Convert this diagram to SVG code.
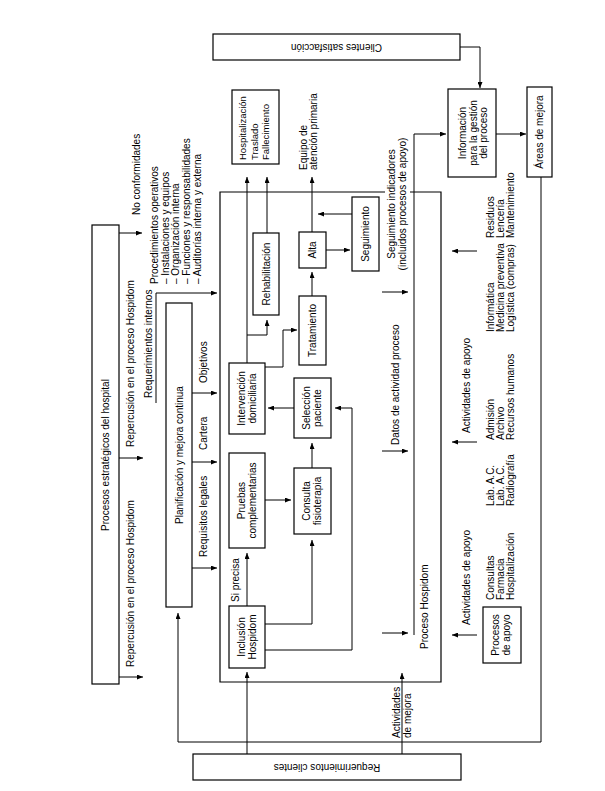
<svg xmlns="http://www.w3.org/2000/svg" width="605" height="791" viewBox="0 0 605 791">
<defs>
<marker id="a" markerUnits="userSpaceOnUse" markerWidth="6" markerHeight="5" refX="6" refY="2.5" orient="auto"><path d="M0,0 L6,2.5 L0,5 z" fill="#000"/></marker>
<style>
rect{fill:#fff;stroke:#000;stroke-width:1.2}
.c path{fill:none;stroke:#000;stroke-width:1;marker-end:url(#a)}
text{font-family:"Liberation Sans",Arial,sans-serif;font-size:10px;fill:#000}
.m{text-anchor:middle}
</style>
</defs>
<rect x="0" y="0" width="605" height="791" style="fill:#fff;stroke:none"/>

<g class="c" id="connectors">
<path d="M460,47 H480 V88"/>
<path d="M496,134 H526"/>
<path d="M541,177 V742 H178 V613"/>
<path d="M119,233 H142"/>
<path d="M119,458 H143"/>
<path d="M119,677 H143"/>
<path d="M156,403 V293 H217"/>
<path d="M192,393 H217"/>
<path d="M192,462 H217"/>
<path d="M192,568 H217"/>
<path d="M247,754 V672"/>
<path d="M402,754 V673"/>
<path d="M247,606 V553"/>
<path d="M265,624 H312 V540"/>
<path d="M265,650 H352 V408 H335"/>
<path d="M265,500 H291"/>
<path d="M312,468 V443"/>
<path d="M294,408 H268"/>
<path d="M247,363 V177"/>
<path d="M247,335 H267 V320"/>
<path d="M267,233 V177"/>
<path d="M265,367 H283 V330 H297"/>
<path d="M312,296 V272"/>
<path d="M312,232 V177"/>
<path d="M326,250 H350"/>
<path d="M352,214 H318"/>
<path d="M382,292 H408"/>
<path d="M382,451 H408"/>
<path d="M382,633 H408"/>
<path d="M414,635 V134 H446"/>
<path d="M477,251 H452"/>
<path d="M477,442 H452"/>
<path d="M477,635 H452"/>
</g>

<g id="proceso-hospidom">
<path d="M385,192 H220 V682 H441 V192 H410" fill="none" stroke="#000" stroke-width="1.2"/>
<text transform="translate(428,649) rotate(-90)">Proceso Hospidom</text>
</g>

<g id="clientes-satisfaccion">
<rect x="213" y="34" width="247" height="26"/>
<text class="m" transform="translate(336.5,43.5) rotate(180)">Clientes satisfacción</text>
</g>

<g id="informacion">
<rect x="448" y="89" width="48" height="88"/>
<text class="m" transform="translate(466,133) rotate(-90)"><tspan x="0" y="0">Información</tspan><tspan x="0" dy="10.5">para la gestión</tspan><tspan x="0" dy="10.5">del proceso</tspan></text>
</g>

<g id="areas-mejora">
<rect x="527" y="87" width="25" height="90"/>
<text class="m" transform="translate(543,132) rotate(-90)">Áreas de mejora</text>
</g>

<g id="procesos-estrategicos">
<rect x="92" y="225" width="27" height="459"/>
<text class="m" transform="translate(109,455) rotate(-90)">Procesos estratégicos del hospital</text>
</g>

<g id="planificacion">
<rect x="166" y="303" width="26" height="304"/>
<text class="m" transform="translate(183,455) rotate(-90)">Planificación y mejora continua</text>
</g>

<g id="hospitalizacion">
<rect x="232" y="90" width="47" height="74"/>
<text transform="translate(246,160) rotate(-90)" style="font-size:9.5px"><tspan x="0" y="0">Hospitalización</tspan><tspan x="0" dy="11.5">Traslado</tspan><tspan x="0" dy="11.5">Fallecimiento</tspan></text>
</g>

<g id="rehabilitacion">
<rect x="253" y="233" width="26" height="82"/>
<text class="m" transform="translate(270,274) rotate(-90)">Rehabilitación</text>
</g>

<g id="alta">
<rect x="299" y="232" width="27" height="36"/>
<text class="m" transform="translate(316,250) rotate(-90)">Alta</text>
</g>

<g id="tratamiento">
<rect x="299" y="296" width="27" height="69"/>
<text class="m" transform="translate(316,330.5) rotate(-90)">Tratamiento</text>
</g>

<g id="seguimiento">
<rect x="352" y="197" width="27" height="74"/>
<text class="m" transform="translate(369,234) rotate(-90)">Seguimiento</text>
</g>

<g id="intervencion">
<rect x="229" y="363" width="36" height="71"/>
<text class="m" transform="translate(245,398.5) rotate(-90)"><tspan x="0" y="0">Intervención</tspan><tspan x="0" dy="11">domiciliaria</tspan></text>
</g>

<g id="seleccion">
<rect x="294" y="378" width="37" height="60"/>
<text class="m" transform="translate(310,408) rotate(-90)"><tspan x="0" y="0">Selección</tspan><tspan x="0" dy="11">paciente</tspan></text>
</g>

<g id="pruebas">
<rect x="229" y="453" width="36" height="95"/>
<text class="m" transform="translate(245,500.5) rotate(-90)"><tspan x="0" y="0">Pruebas</tspan><tspan x="0" dy="11">complementarias</tspan></text>
</g>

<g id="consulta">
<rect x="294" y="468" width="37" height="66"/>
<text class="m" transform="translate(310,501) rotate(-90)"><tspan x="0" y="0">Consulta</tspan><tspan x="0" dy="11">fisioterapia</tspan></text>
</g>

<g id="inclusion">
<rect x="229" y="606" width="36" height="62"/>
<text class="m" transform="translate(245,637) rotate(-90)"><tspan x="0" y="0">Inclusión</tspan><tspan x="0" dy="11">Hospidom</tspan></text>
</g>

<g id="procesos-apoyo">
<rect x="483" y="607" width="38" height="56"/>
<text class="m" transform="translate(499,635) rotate(-90)"><tspan x="0" y="0">Procesos</tspan><tspan x="0" dy="11">de apoyo</tspan></text>
</g>

<g id="requerimientos-clientes">
<rect x="193" y="754" width="268" height="26"/>
<text class="m" transform="translate(327,763.5) rotate(180)">Requerimientos clientes</text>
</g>

<g id="labels">
<text transform="translate(140,215) rotate(-90)">No conformidades</text>
<text transform="translate(133.5,447) rotate(-90)">Repercusión en el proceso Hospidom</text>
<text transform="translate(133.5,667) rotate(-90)">Repercusión en el proceso Hospidom</text>
<text transform="translate(151.5,398) rotate(-90)">Requerimientos internos</text>
<text transform="translate(158,284) rotate(-90)"><tspan x="0" y="0">Procedimientos operativos</tspan><tspan x="0" dy="10.7">– Instalaciones y equipos</tspan><tspan x="0" dy="10.7">– Organización interna</tspan><tspan x="0" dy="10.7">– Funciones y responsabilidades</tspan><tspan x="0" dy="10.7">– Auditorías interna y externa</tspan></text>
<text transform="translate(207,383) rotate(-90)">Objetivos</text>
<text transform="translate(207,450) rotate(-90)">Cartera</text>
<text transform="translate(207,557) rotate(-90)">Requisitos legales</text>
<text transform="translate(238.5,602) rotate(-90)">Si precisa</text>
<text transform="translate(307,170) rotate(-90)"><tspan x="0" y="0">Equipo de</tspan><tspan x="0" dy="9.5">atención primaria</tspan></text>
<text class="m" transform="translate(394.5,204) rotate(-90)"><tspan x="0" y="0">Seguimiento indicadores</tspan><tspan x="0" dy="11">(incluidos procesos de apoyo)</tspan></text>
<text transform="translate(399,445) rotate(-90)">Datos de actividad proceso</text>
<text transform="translate(400,738) rotate(-90)"><tspan x="0" y="0">Actividades</tspan><tspan x="0" dy="11">de mejora</tspan></text>
<text transform="translate(470,433) rotate(-90)">Actividades de apoyo</text>
<text transform="translate(470,625) rotate(-90)">Actividades de apoyo</text>
<text transform="translate(493.5,238) rotate(-90)"><tspan x="0" y="0">Residuos</tspan><tspan x="0" dy="10">Lencería</tspan><tspan x="0" dy="10">Mantenimiento</tspan></text>
<text transform="translate(493.5,332) rotate(-90)"><tspan x="0" y="0">Informática</tspan><tspan x="0" dy="10">Medicina preventiva</tspan><tspan x="0" dy="10">Logística (compras)</tspan></text>
<text transform="translate(493.5,440) rotate(-90)"><tspan x="0" y="0">Admisión</tspan><tspan x="0" dy="10">Archivo</tspan><tspan x="0" dy="10">Recursos humanos</tspan></text>
<text transform="translate(493.5,506) rotate(-90)"><tspan x="0" y="0">Lab. A.C.</tspan><tspan x="0" dy="10">Lab. A.C.</tspan><tspan x="0" dy="10">Radiografía</tspan></text>
<text transform="translate(493.5,600) rotate(-90)"><tspan x="0" y="0">Consultas</tspan><tspan x="0" dy="10">Farmacia</tspan><tspan x="0" dy="10">Hospitalización</tspan></text>
</g>
</svg>
